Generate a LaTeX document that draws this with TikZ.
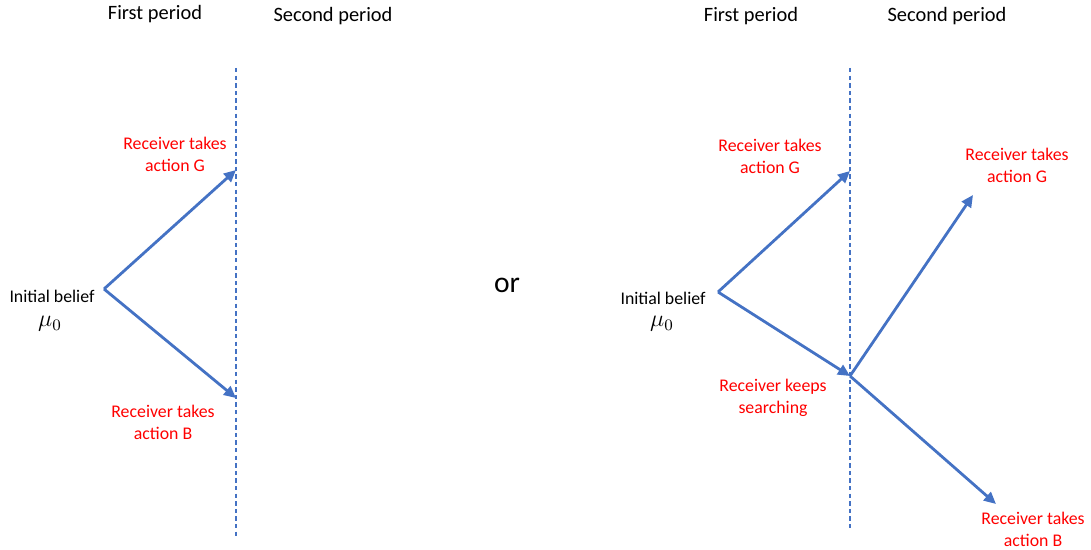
\documentclass[tikz,border=0pt]{standalone}
\usepackage{fontspec}
\setmainfont{Carlito}
\usepackage{amsmath}
\usetikzlibrary{arrows.meta}
\definecolor{arrowblue}{RGB}{68,114,196}

\begin{document}
\begin{tikzpicture}[x=0.5pt, y=-0.5pt,
  arr/.style={-{Triangle[length=6pt,width=5.5pt]}, line width=1.4pt, arrowblue},
  period/.style={dash pattern=on 2.2pt off 1.6pt, arrowblue, line width=0.6pt},
  head/.style={font=\fontsize{10.2}{12}\selectfont},
  lbl/.style={align=center, font=\fontsize{8.9}{11}\selectfont, inner sep=0pt},
  red lbl/.style={lbl, text=red}]

\useasboundingbox (0,0) rectangle (1091,550);

% Left: one period
\node[head] (firstL) at (155,14) {First period};
\node[head] (secondL) at (333,16) {Second period};
\coordinate (cutLtop) at (236,68);
\coordinate (cutLbot) at (236,537);
\draw[period] (cutLtop) -- (cutLbot);

\coordinate (startL) at (104,289);
\coordinate (goodL) at (236,170);
\coordinate (badL) at (236,398);
\draw[arr] (startL) -- (goodL);
\draw[arr] (startL) -- (badL);

\node[lbl] (beliefL) at (52,296) {Initial belief};
\node[lbl] (muL) at (50,324) {\large$\mu_0$};
\node[red lbl] (takeGL) at (175,154) {Receiver takes\\action G};
\node[red lbl] (takeBL) at (163,422) {Receiver takes\\action B};

\node[font=\fontsize{14.8}{18}\selectfont] (or) at (507,285) {or};

% Right: two periods
\node[head] (firstR) at (751,16) {First period};
\node[head] (secondR) at (947,16) {Second period};
\coordinate (cutRtop) at (850,68);
\coordinate (cutRbot) at (850,530);
\draw[period] (cutRtop) -- (cutRbot);

\coordinate (startR) at (718,292);
\coordinate (goodR) at (850,171);
\coordinate (keepR) at (850,376);
\coordinate (goodR2) at (973,195);
\coordinate (badR2) at (996,504);
\draw[arr] (startR) -- (goodR);
\draw[arr] (startR) -- (keepR);
\draw[arr] (keepR) -- (goodR2);
\draw[arr] (keepR) -- (badR2);

\node[lbl] (beliefR) at (663,298) {Initial belief};
\node[lbl] (muR) at (662,324) {\large$\mu_0$};
\node[red lbl] (takeGR) at (770,156) {Receiver takes\\action G};
\node[red lbl] (keepLbl) at (773,398) {Receiver keeps\\searching};
\node[red lbl] (takeGR2) at (1017,165) {Receiver takes\\action G};
\node[red lbl] (takeBR2) at (1033,529) {Receiver takes\\action B};

\end{tikzpicture}
\end{document}
